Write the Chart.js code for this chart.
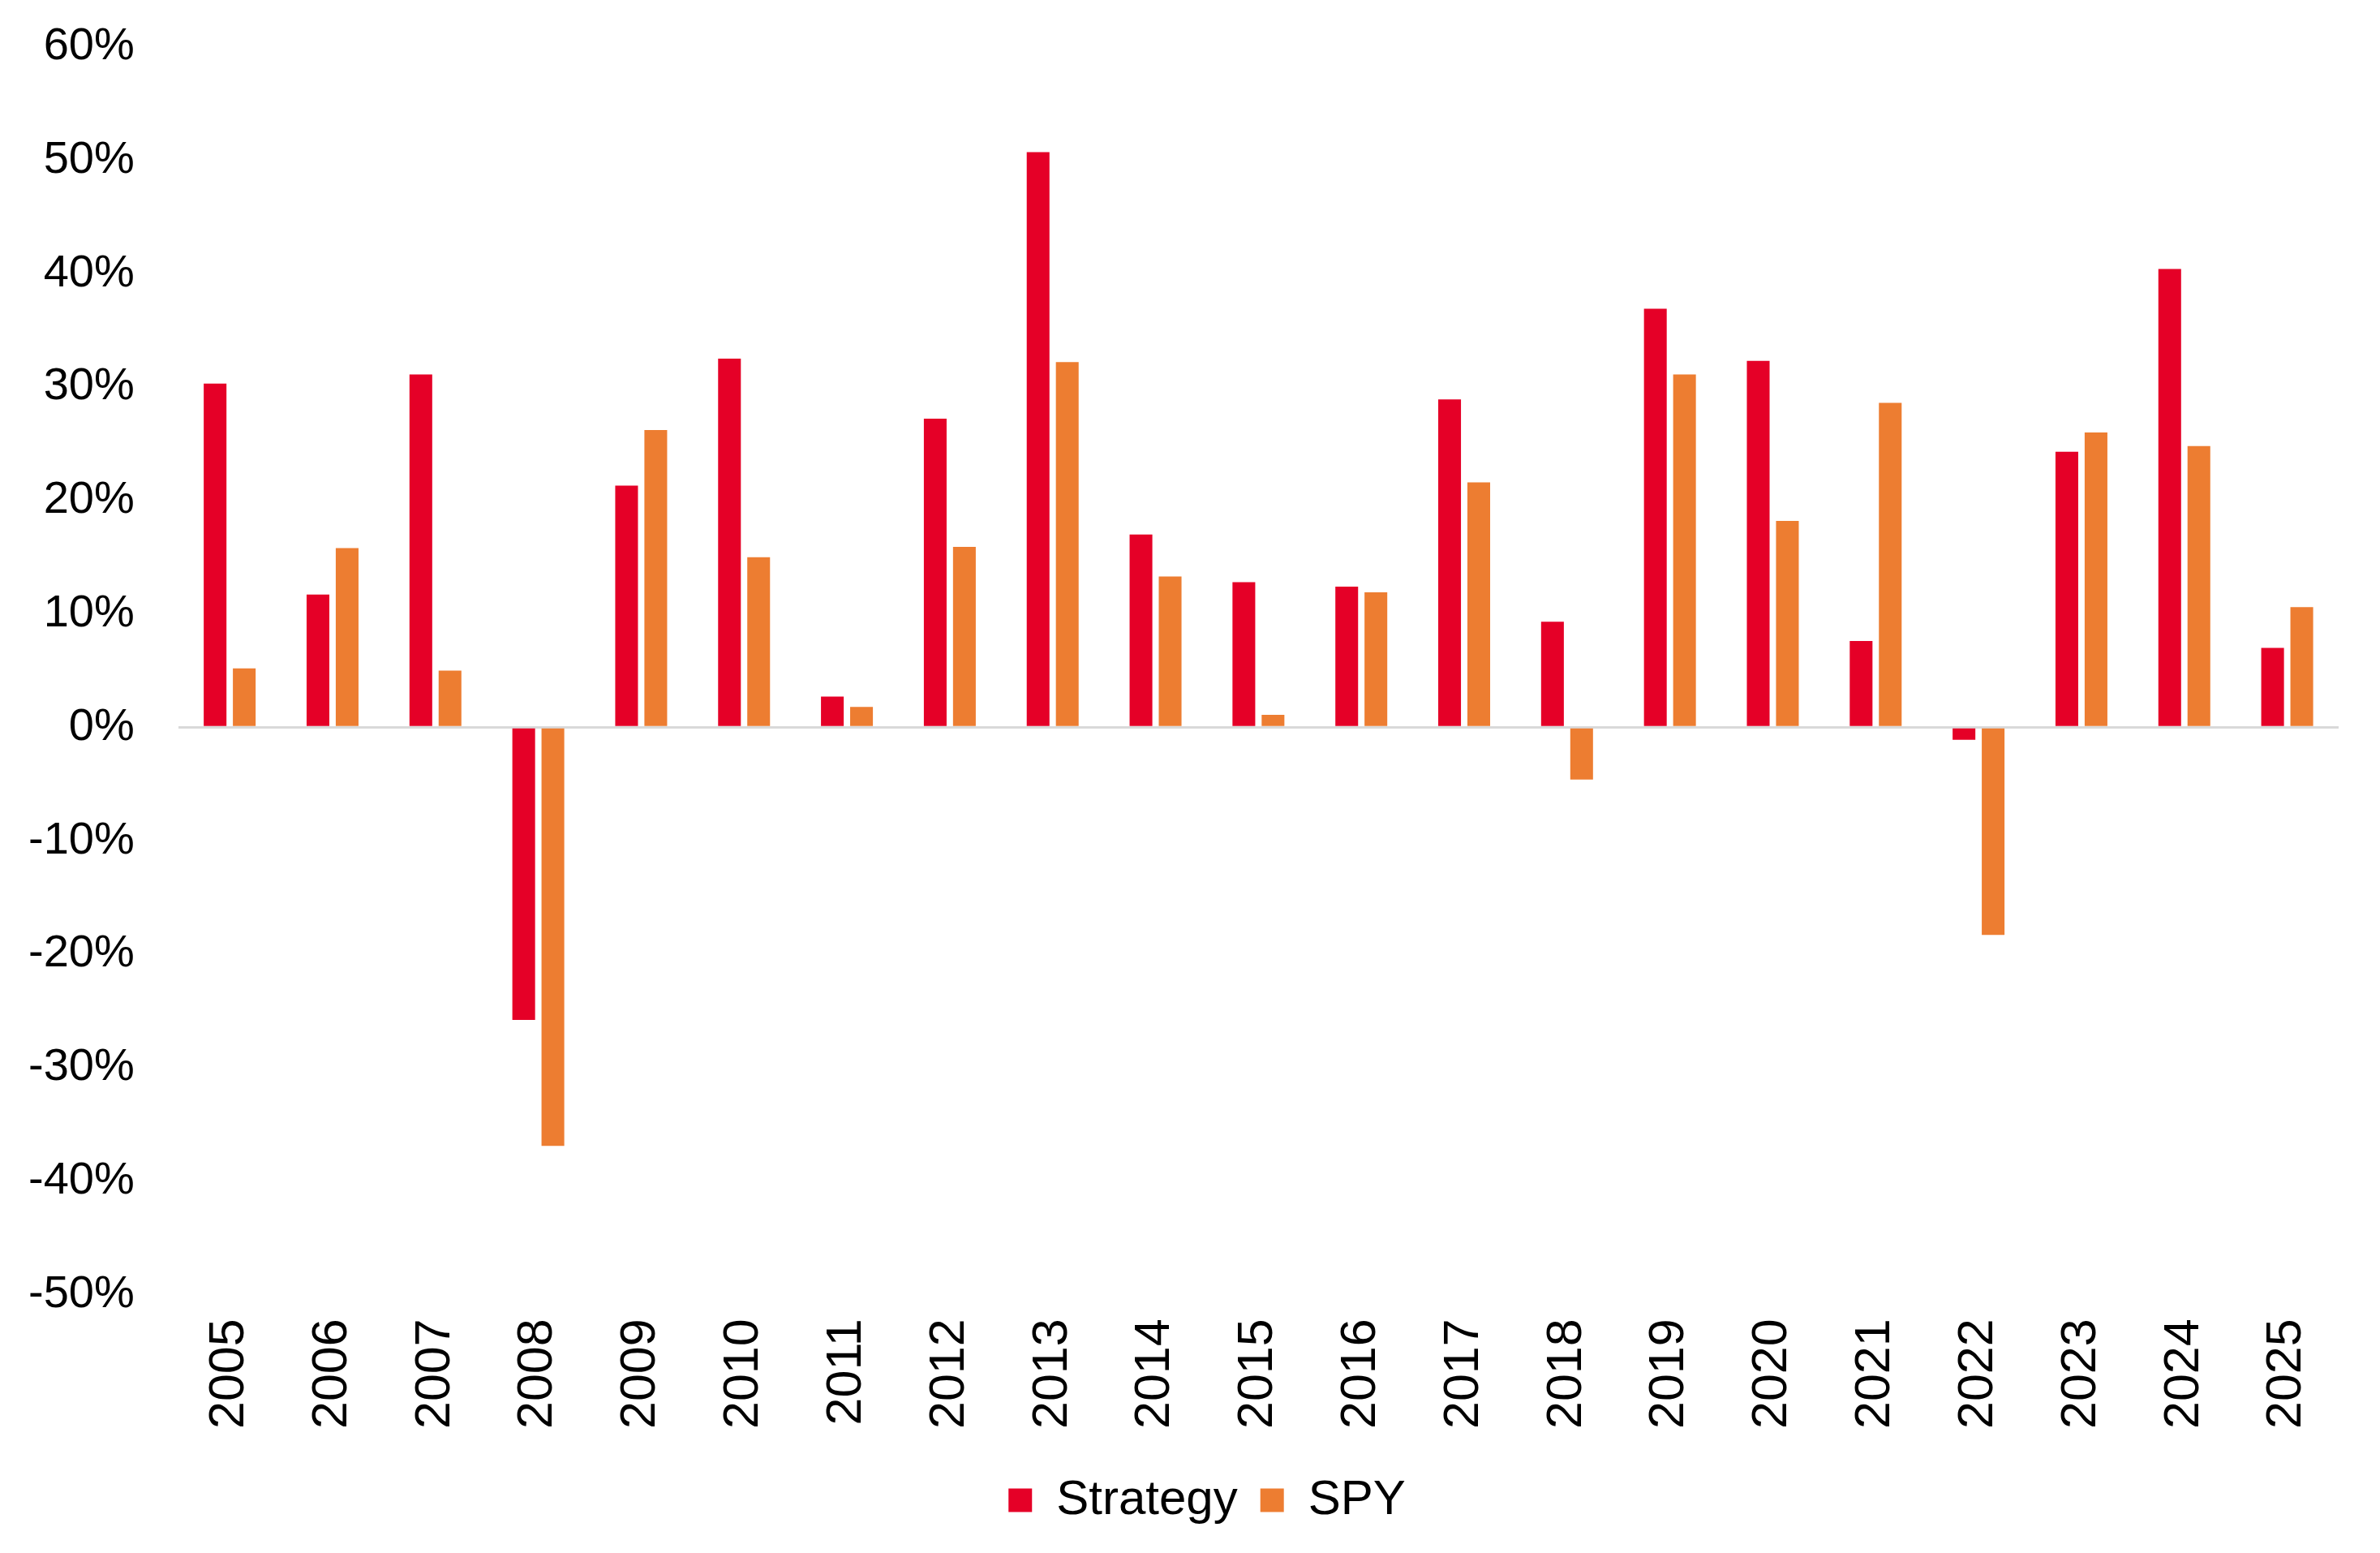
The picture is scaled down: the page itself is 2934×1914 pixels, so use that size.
<!DOCTYPE html>
<html>
<head>
<meta charset="utf-8">
<title>Strategy vs SPY - annual returns</title>
<script src="https://cdn.jsdelivr.net/npm/chart.js@4.4.1/dist/chart.umd.min.js"></script>
<style>
  html, body { margin: 0; padding: 0; background: #ffffff; }
  #wrap { width: 2934px; height: 1914px; overflow: hidden; }
  /* canvas is a bit taller than the page and pulled up, so the plot top sits where the reference has it */
  #returnsChart { display: block; margin-top: -30px; }
</style>
</head>
<body>
<div id="wrap">
  <canvas id="returnsChart" width="2934" height="1944"></canvas>
</div>
<script>
/* ---------- data (annual returns, %) ---------- */
const years = ["2005", "2006", "2007", "2008", "2009", "2010", "2011", "2012", "2013", "2014", "2015",
               "2016", "2017", "2018", "2019", "2020", "2021", "2022", "2023", "2024", "2025"];
const strategyReturns = [30.3, 11.7, 31.1, -25.8, 21.3, 32.5, 2.7, 27.2, 50.7, 17.0, 12.8,
                         12.4, 28.9, 9.3, 36.9, 32.3, 7.6, -1.1, 24.3, 40.4, 7.0];
const spyReturns = [5.2, 15.8, 5.0, -36.9, 26.2, 15.0, 1.8, 15.9, 32.2, 13.3, 1.1,
                    11.9, 21.6, -4.6, 31.1, 18.2, 28.6, -18.3, 26.0, 24.8, 10.6];
const yMin = -50;
const yMax = 60;
const yStep = 10;

const RED = "#E50027";
const ORANGE = "#ED7D31";
const FONT = "'Liberation Sans', Arial, sans-serif";

// nudge the legend row a little right, the reference centres it on the page not the layout box
const legendShift = {
    id: "legendShift",
    afterLayout(chart) {
        const lg = chart.legend;
        if (!lg) return;
        lg.left += 56;
        lg.right += 56;
    }
};

const ctx = document.getElementById("returnsChart");

new Chart(ctx, {
    type: "bar",
    data: {
        labels: years,
        datasets: [
            {
                label: "Strategy",
                data: strategyReturns,
                backgroundColor: RED,
                borderWidth: 0,
                categoryPercentage: 0.567,
                barPercentage: 0.78
            },
            {
                label: "SPY",
                data: spyReturns,
                backgroundColor: ORANGE,
                borderWidth: 0,
                categoryPercentage: 0.567,
                barPercentage: 0.78
            }
        ]
    },
    plugins: [legendShift],
    options: {
        responsive: false,
        devicePixelRatio: 1,
        animation: false,
        layout: {
            padding: { top: 0, left: -19, right: 51, bottom: 25 }
        },
        plugins: {
            tooltip: { enabled: false },
            legend: {
                position: "bottom",
                labels: {
                    color: "#000000",
                    font: { family: FONT, size: 60 },
                    boxWidth: 29,
                    boxHeight: 29,
                    padding: 28
                }
            }
        },
        scales: {
            x: {
                grid: { display: false, drawTicks: false },
                border: { display: false },
                ticks: {
                    color: "#000000",
                    font: { family: FONT, size: 61 },
                    minRotation: 90,
                    maxRotation: 90,
                    autoSkip: false,
                    padding: 30
                }
            },
            y: {
                min: yMin,
                max: yMax,
                border: { display: false },
                grid: {
                    drawTicks: false,
                    // only the zero line is visible
                    color: (c) => (c.tick && c.tick.value === 0 ? "#D9D9D9" : "rgba(0,0,0,0)"),
                    lineWidth: 3
                },
                ticks: {
                    stepSize: yStep,
                    color: "#000000",
                    font: { family: FONT, size: 56 },
                    padding: 54,
                    callback: (v) => v + "%"
                }
            }
        }
    }
});
</script>
</body>
</html>
